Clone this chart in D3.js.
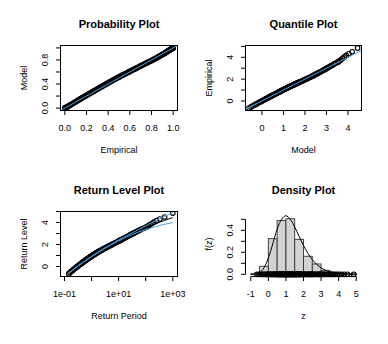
<!DOCTYPE html>
<html>
<head>
<meta charset="utf-8">
<script src="https://cdn.jsdelivr.net/npm/d3@7"></script>
<style>
body { margin: 0; background: #fff; }
text { font-family: "Liberation Sans", Arial, sans-serif; fill: #000; }
.title { font-size: 11px; font-weight: bold; }
.axis text { font-size: 9px; }
.lab { font-size: 9px; }
</style>
</head>
<body>
<svg width="388" height="344"></svg>
<script>
// ordered sample: plotting position, empirical value, fitted quantile, fitted cdf
var empProb = [0.001,0.002,0.004,0.007,0.01,0.015,0.02,0.025,0.03,0.037,0.045,0.052,
  0.06,0.07,0.08,0.09,0.10,0.11,0.12,0.13,0.14,0.15,0.16,0.17,0.18,0.19,0.20,0.21,0.22,0.23,0.24,0.25,
  0.26,0.27,0.28,0.29,0.30,0.31,0.32,0.33,0.34,0.35,0.36,0.37,0.38,0.39,0.40,0.41,0.42,0.43,0.44,0.45,
  0.46,0.47,0.48,0.49,0.50,0.51,0.52,0.53,0.54,0.55,0.56,0.57,0.58,0.59,0.60,0.61,0.62,0.63,0.64,0.65,
  0.66,0.67,0.68,0.69,0.70,0.71,0.72,0.73,0.74,0.75,0.76,0.77,0.78,0.79,0.80,0.81,0.82,0.83,0.84,0.85,
  0.86,0.87,0.88,0.89,0.90,
  0.905,0.91,0.915,0.92,0.925,0.93,0.935,0.94,0.945,0.95,0.955,0.96,0.9625,0.965,0.9675,0.97,0.9725,
  0.975,0.9775,0.98,0.9825,0.985,0.9875,
  0.990,0.991,0.992,0.993,0.994,0.995,0.996,0.997,0.998,0.999];
var empZ = [-0.650,-0.540,-0.429,-0.335,-0.268,-0.187,-0.125,-0.076,-0.036,0.016,0.068,0.105,
  0.149,0.195,0.237,0.276,0.312,0.347,0.379,0.409,0.438,0.466,0.494,0.520,0.545,0.570,0.595,0.618,0.640,0.663,0.685,0.708,
  0.729,0.751,0.771,0.791,0.811,0.832,0.852,0.873,0.893,0.914,0.933,0.953,0.972,0.993,1.012,1.032,1.051,1.070,1.088,1.107,
  1.126,1.145,1.165,1.184,1.203,1.222,1.241,1.260,1.278,1.297,1.316,1.336,1.355,1.375,1.395,1.415,1.435,1.455,1.476,1.497,
  1.518,1.541,1.563,1.586,1.610,1.633,1.655,1.679,1.703,1.729,1.754,1.781,1.808,1.837,1.866,1.898,1.931,1.966,2.002,2.043,
  2.083,2.129,2.174,2.226,2.281,
  2.311,2.343,2.378,2.414,2.452,2.492,2.536,2.582,2.633,2.688,2.748,2.815,2.853,2.892,2.936,2.981,3.030,
  3.083,3.143,3.207,3.282,3.370,3.46,
  3.55,3.62,3.70,3.80,3.91,4.03,4.17,4.32,4.50,4.86];
var modelZ = [-0.600,-0.509,-0.409,-0.320,-0.258,-0.182,-0.125,-0.076,-0.036,0.014,0.063,0.100,
  0.139,0.184,0.224,0.261,0.295,0.328,0.359,0.388,0.416,0.443,0.470,0.495,0.519,0.543,0.567,0.589,0.611,0.633,0.655,0.677,
  0.698,0.719,0.739,0.759,0.779,0.799,0.819,0.839,0.858,0.878,0.897,0.916,0.935,0.955,0.974,0.993,1.012,1.031,1.050,1.069,
  1.089,1.108,1.128,1.147,1.167,1.187,1.207,1.227,1.247,1.267,1.288,1.309,1.330,1.351,1.373,1.395,1.417,1.439,1.462,1.485,
  1.508,1.532,1.556,1.581,1.607,1.633,1.659,1.686,1.714,1.743,1.772,1.803,1.834,1.867,1.900,1.935,1.971,2.009,2.048,2.091,
  2.134,2.182,2.230,2.284,2.341,
  2.371,2.403,2.437,2.472,2.509,2.548,2.590,2.634,2.682,2.734,2.790,2.853,2.887,2.922,2.961,3.001,3.045,
  3.093,3.145,3.202,3.267,3.340,3.425,
  3.526,3.574,3.625,3.684,3.750,3.827,3.919,4.036,4.194,4.448];
var modelProb = [0.0008,0.0018,0.0035,0.0067,0.0095,0.0148,0.020,0.025,0.030,0.0372,0.0455,0.0528,
  0.062,0.0725,0.083,0.094,0.105,0.1165,0.128,0.139,0.150,0.1605,0.171,0.1815,0.192,0.202,0.212,0.2225,0.233,0.2435,0.254,0.2645,
  0.275,0.2855,0.296,0.306,0.316,0.3265,0.337,0.3475,0.358,0.3685,0.379,0.389,0.399,0.4095,0.420,0.430,0.440,0.450,0.460,0.4695,
  0.479,0.489,0.499,0.5085,0.518,0.5275,0.537,0.5465,0.556,0.5645,0.573,0.582,0.591,0.6005,0.610,0.619,0.628,0.637,0.646,0.655,
  0.664,0.6735,0.683,0.692,0.701,0.710,0.719,0.728,0.737,0.746,0.755,0.764,0.773,0.7815,0.790,0.7995,0.809,0.8185,0.828,0.838,
  0.848,0.8585,0.869,0.8795,0.890,
  0.895,0.900,0.9055,0.911,0.917,0.923,0.9285,0.934,0.9395,0.945,0.951,0.957,0.960,0.963,0.9655,0.968,0.971,
  0.974,0.977,0.980,0.983,0.986,0.9885,
  0.9905,0.9915,0.9928,0.9940,0.9953,0.9964,0.9974,0.9982,0.9989,0.9996];

// return level curve and its confidence band
var rlPeriod = [0.145,0.2,0.3,0.5,1,2,5,10,20,50,100,200,500,1000];
var rlLevel = [-0.600,-0.326,0.005,0.403,0.912,1.387,1.966,2.370,2.748,3.207,3.528,3.828,4.194,4.448];
var rlLower = [-0.64,-0.356,-0.020,0.382,0.888,1.360,1.930,2.325,2.690,3.100,3.345,3.580,3.840,3.990];
var rlUpper = [-0.56,-0.296,0.030,0.424,0.936,1.414,2.002,2.415,2.806,3.314,3.711,4.076,4.548,4.906];

// density plot
var histBreaks = [-1,-0.5,0,0.5,1,1.5,2,2.5,3,3.5,4,4.5,5];
var histDensity = [0.004,0.073,0.324,0.490,0.505,0.318,0.164,0.094,0.036,0.012,0.006,0.004];
var densZ = [-1,-0.75,-0.5,-0.25,0,0.25,0.5,0.75,1,1.25,1.5,1.75,2,2.25,2.5,2.75,3,3.5,4,4.5,5];
var densF = [0.0002,0.0025,0.0155,0.058,0.147,0.276,0.41,0.50,0.532,0.50,0.43,0.345,0.262,0.190,0.133,0.090,0.059,0.023,0.008,0.0025,0.0006];

var svg = d3.select("svg");
var blue = "#46a0e4";
var defs = svg.append("defs");
var clipN = 0;

var L = [60.5, 177.5], R = [245.5, 361.5], T = [45.5, 110.5], B = [211.5, 276.5];

function clipped(xr, yr) {
  var id = "clip" + (clipN++);
  defs.append("clipPath").attr("id", id).append("rect")
    .attr("x", xr[0]).attr("y", yr[0]).attr("width", xr[1] - xr[0]).attr("height", yr[1] - yr[0]);
  return svg.append("g").attr("clip-path", "url(#" + id + ")");
}

function labels(xr, yr, title, xlab, ylab) {
  svg.append("text").attr("class", "title").attr("x", (xr[0] + xr[1]) / 2).attr("y", yr[0] - 17.5)
    .attr("text-anchor", "middle").text(title);
  svg.append("text").attr("class", "lab").attr("x", (xr[0] + xr[1]) / 2).attr("y", yr[1] + 42.5)
    .attr("text-anchor", "middle").text(xlab);
  svg.append("text").attr("class", "lab")
    .attr("transform", "translate(" + (xr[0] - 34) + "," + ((yr[0] + yr[1]) / 2) + ") rotate(-90)")
    .attr("text-anchor", "middle").text(ylab);
}

function box(xr, yr) {
  svg.append("rect").attr("x", xr[0]).attr("y", yr[0])
    .attr("width", xr[1] - xr[0]).attr("height", yr[1] - yr[0])
    .attr("fill", "none").attr("stroke", "#000").attr("stroke-width", 1);
}

function bottomAxis(scale, y, ticks, names) {
  var g = svg.append("g").attr("class", "axis").attr("transform", "translate(0," + y + ")")
    .call(d3.axisBottom(scale).tickValues(ticks).tickFormat(function(d, i) { return names[i]; })
      .tickSize(4.5).tickSizeOuter(0).offset(0));
  g.select(".domain").attr("d", "M" + scale(ticks[0]) + ",0H" + scale(ticks[ticks.length - 1]));
  g.selectAll(".tick text").attr("y", 20).attr("dy", 0);
}

function leftAxis(scale, x, ticks, names) {
  var g = svg.append("g").attr("class", "axis").attr("transform", "translate(" + x + ",0)")
    .call(d3.axisLeft(scale).tickValues(ticks).tickFormat(function(d, i) { return names[i]; })
      .tickSize(4.5).tickSizeOuter(0).offset(0));
  g.select(".domain").attr("d", "M0," + scale(ticks[0]) + "V" + scale(ticks[ticks.length - 1]));
  g.selectAll(".tick text").attr("x", 0).attr("y", -13).attr("dy", 0)
    .attr("text-anchor", "middle").attr("transform", "rotate(-90)");
}

function circles(g, xs, ys) {
  g.selectAll("circle.pt").data(xs).enter().append("circle")
    .attr("class", "pt")
    .attr("cx", function(d) { return d; })
    .attr("cy", function(d, i) { return ys[i]; })
    .attr("r", 2.3)
    .attr("fill", "none").attr("stroke", "#000").attr("stroke-width", 1.1);
}

// ---- Probability Plot
var ppX = d3.scaleLinear().domain([-0.04, 1.04]).range(L);
var ppY = d3.scaleLinear().domain([-0.04, 1.04]).range([T[1], T[0]]);
var g1 = clipped(L, T);
circles(g1, empProb.map(ppX), modelProb.map(ppY));
g1.append("line").attr("x1", ppX(-0.04)).attr("y1", ppY(-0.04)).attr("x2", ppX(1.04)).attr("y2", ppY(1.04))
  .attr("stroke", blue).attr("stroke-width", 1);
box(L, T);
bottomAxis(ppX, T[1], [0, 0.2, 0.4, 0.6, 0.8, 1], ["0.0", "0.2", "0.4", "0.6", "0.8", "1.0"]);
leftAxis(ppY, L[0], [0, 0.2, 0.4, 0.6, 0.8, 1], ["0.0", "", "0.4", "", "0.8", ""]);
labels(L, T, "Probability Plot", "Empirical", "Model");

// ---- Quantile Plot
var qqX = d3.scaleLinear().domain([-0.764, 4.63]).range(R);
var qqY = d3.scaleLinear().domain([-0.87, 5.08]).range([T[1], T[0]]);
var g2 = clipped(R, T);
circles(g2, modelZ.map(qqX), empZ.map(qqY));
g2.append("line").attr("x1", qqX(-1)).attr("y1", qqY(-1)).attr("x2", qqX(6)).attr("y2", qqY(6))
  .attr("stroke", blue).attr("stroke-width", 1);
box(R, T);
bottomAxis(qqX, T[1], [0, 1, 2, 3, 4], ["0", "1", "2", "3", "4"]);
leftAxis(qqY, R[0], [0, 1, 2, 3, 4, 5], ["0", "", "2", "", "4", ""]);
labels(R, T, "Quantile Plot", "Model", "Empirical");

// ---- Return Level Plot
var rlX = d3.scaleLog().domain([0.0711, 1493]).range(L);
var rlY = d3.scaleLinear().domain([-0.91, 5.0]).range([B[1], B[0]]);
var g3 = clipped(L, B);
circles(g3, empProb.map(function(p) { return rlX(-1 / Math.log(p)); }), empZ.map(rlY));
function rlLine(vals, col) {
  var line = d3.line()
    .x(function(d, i) { return rlX(rlPeriod[i]); })
    .y(function(d) { return rlY(d); })
    .curve(d3.curveMonotoneX);
  g3.append("path").attr("d", line(vals)).attr("fill", "none").attr("stroke", col).attr("stroke-width", 1);
}
rlLine(rlLevel, "#000");
rlLine(rlLower, blue);
rlLine(rlUpper, blue);
box(L, B);
bottomAxis(rlX, B[1], [0.1, 1, 10, 100, 1000], ["1e-01", "", "1e+01", "", "1e+03"]);
leftAxis(rlY, L[0], [0, 1, 2, 3, 4, 5], ["0", "", "2", "", "4", ""]);
labels(L, B, "Return Level Plot", "Return Period", "Return Level");

// ---- Density Plot
var dX = d3.scaleLinear().domain([-1.3, 5.3]).range(R);
var dY = d3.scaleLinear().domain([-0.02, 0.571]).range([B[1], B[0]]);
var g4 = svg.append("g");
g4.selectAll("rect.bar").data(histDensity).enter().append("rect")
  .attr("class", "bar")
  .attr("x", function(d, i) { return dX(histBreaks[i]); })
  .attr("width", function(d, i) { return dX(histBreaks[i + 1]) - dX(histBreaks[i]); })
  .attr("y", function(d) { return dY(d); })
  .attr("height", function(d) { return dY(0) - dY(d); })
  .attr("fill", "#d3d3d3").attr("stroke", "#333").attr("stroke-width", 0.9);
var dline = d3.line()
  .x(function(d, i) { return dX(densZ[i]); })
  .y(function(d) { return dY(d); })
  .curve(d3.curveMonotoneX);
g4.append("path").attr("d", dline(densF)).attr("fill", "none").attr("stroke", "#000").attr("stroke-width", 1);
circles(g4, empZ.map(dX), empZ.map(function() { return dY(0); }));
bottomAxis(dX, B[1], [-1, 0, 1, 2, 3, 4, 5], ["-1", "0", "1", "2", "3", "4", "5"]);
leftAxis(dY, R[0], [0, 0.1, 0.2, 0.3, 0.4, 0.5], ["0.0", "", "0.2", "", "0.4", ""]);
labels(R, B, "Density Plot", "z", "f(z)");
</script>
</body>
</html>
